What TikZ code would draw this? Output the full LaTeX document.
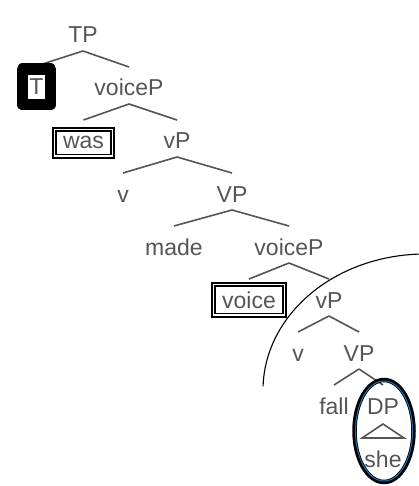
\documentclass[tikz,border=0pt]{standalone}
\usepackage{fontspec}
\setmainfont{Liberation Sans}
\definecolor{textgray}{HTML}{555555}
\definecolor{ringblue}{HTML}{1E6EB4}
\pgfdeclarelayer{background}
\pgfsetlayers{background,main}
\begin{document}
\begin{tikzpicture}[x=1pt,y=-1pt,
  lbl/.style={anchor=base, text=textgray, font=\fontsize{23}{27}\selectfont, inner sep=0pt},
  dbox/.style={draw=black, double=white, line width=1.8pt, double distance=1.6pt,
               inner xsep=8.5pt, inner ysep=7pt},
  headbox/.style={draw=black, fill=white, line width=11.5pt, line join=round,
                  minimum width=28pt, minimum height=35.5pt, inner sep=0pt,
                  text=textgray, font=\fontsize{23}{27}\selectfont},
  branch/.style={draw=textgray, line width=1.6pt}]
\useasboundingbox (0,0) rectangle (419,486);
\clip (0,0) rectangle (419,486);

% tree labels
\node[lbl] (TP)  at (83,43)   {TP};
\node[headbox] (T) at (36.5,87) {T};
\node[lbl] (vcP1) at (129,96) {voiceP};
\node[lbl,dbox] (was) at (83.5,149) {was};
\node[lbl] (vP1) at (177,149) {vP};
\node[lbl] (v1)  at (123,202) {v};
\node[lbl] (VP1) at (232,202) {VP};
\node[lbl] (made) at (174,255) {made};
\node[lbl] (vcP2) at (289,255) {voiceP};
\node[lbl,dbox] (voice) at (249,308) {voice};
\node[lbl] (vP2) at (329,308) {vP};
\node[lbl] (v2)  at (298,361) {v};
\node[lbl] (VP2) at (359,361) {VP};
\node[lbl] (fall) at (334,414) {fall};
\node[lbl] (DP)  at (383,414) {DP};
\node[lbl] (she) at (383,467) {she};

% branches, kept beneath the boxes
\begin{pgfonlayer}{background}
\fill[white] (0,0) rectangle (419,486);
\foreach \p/\c in {TP/T, TP/vcP1, vcP1/was, vcP1/vP1, vP1/v1, vP1/VP1,
                   VP1/made, VP1/vcP2, vcP2/voice, vcP2/vP2, vP2/v2, vP2/VP2,
                   VP2/fall, VP2/DP}
  \draw[branch] ([yshift=-8pt]\p.base) -- ([yshift=29pt]\c.base);
\draw[branch, line join=miter] ([yshift=-10pt]DP.base) -- ([xshift=-21pt,yshift=29pt]she.base)
  -- ([xshift=21pt,yshift=29pt]she.base) -- cycle;
\end{pgfonlayer}

% ring round the DP
\draw[black, line width=4.5pt] (384,431) ellipse [x radius=29.5pt, y radius=51pt];
\draw[ringblue, line width=1pt] (384,431) ellipse [x radius=28.5pt, y radius=50pt];

% large arc
\draw[black, line width=1.1pt] (425,390) ++(178.5:162pt and 136pt)
  arc[start angle=178.5, end angle=85, x radius=162pt, y radius=136pt];
\end{tikzpicture}
\end{document}
